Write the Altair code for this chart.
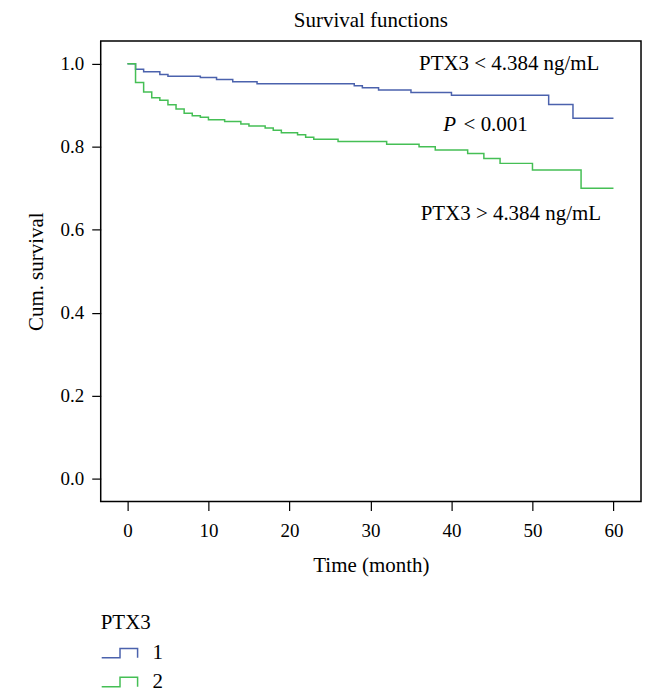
import altair as alt
import pandas as pd

# Group 1 (PTX3 < 4.384 ng/mL)
t1 = [0, 1, 2, 4, 5, 9, 11, 13, 16, 28, 29, 31, 35, 40, 52, 55, 60]
s1 = [1.0, 0.987, 0.981, 0.974, 0.970, 0.967, 0.962, 0.957, 0.952, 0.947,
      0.942, 0.937, 0.931, 0.924, 0.902, 0.869, 0.869]
# Group 2 (PTX3 > 4.384 ng/mL)
t2 = [0, 1, 2, 3, 4, 5, 6, 7, 8, 9, 10, 12, 14, 15, 17, 18, 19, 21, 22, 23,
      26, 32, 36, 38, 42, 44, 46, 50, 56, 60]
s2 = [1.0, 0.955, 0.932, 0.918, 0.912, 0.901, 0.891, 0.881, 0.875, 0.871,
      0.865, 0.861, 0.855, 0.850, 0.845, 0.840, 0.834, 0.829, 0.823, 0.818,
      0.813, 0.806, 0.800, 0.792, 0.784, 0.772, 0.760, 0.744, 0.700, 0.700]

groups = ["1", "2"]
colors = ["#4b62ad", "#45bf55"]

ann_text = ["PTX3 < 4.384 ng/mL", "< 0.001", "PTX3 > 4.384 ng/mL"]
ann_x = [36.0, 41.5, 36.2]
ann_y = [1.0, 0.853, 0.637]

df = pd.DataFrame(
    {"time": t1 + t2, "surv": s1 + s2,
     "PTX3": [groups[0]] * len(t1) + [groups[1]] * len(t2)}
)
ann = pd.DataFrame({"text": ann_text, "x": ann_x, "y": ann_y})
pdf = pd.DataFrame({"text": ["P"], "x": [39.0], "y": [0.853]})

FONT = "Liberation Serif"

xscale = alt.Scale(domain=[-3.3, 63.4], nice=False, zero=False)
yscale = alt.Scale(domain=[-0.055, 1.055], nice=False, zero=False)

step_path = "M-1,0.26L0.02,0.26L0.02,-0.26L1,-0.26L1,0.26"

lines = alt.Chart(df).mark_line(interpolate="step-after", strokeWidth=1.5).encode(
    x=alt.X("time:Q", scale=xscale,
            axis=alt.Axis(values=[0, 10, 20, 30, 40, 50, 60], title="Time (month)")),
    y=alt.Y("surv:Q", scale=yscale,
            axis=alt.Axis(values=[0, 0.2, 0.4, 0.6, 0.8, 1.0], format=".1f",
                          title="Cum. survival")),
    color=alt.Color("PTX3:N", scale=alt.Scale(domain=groups, range=colors),
                    legend=alt.Legend(orient="none", legendX=0, legendY=573,
                                      symbolType=step_path, symbolSize=1296,
                                      symbolStrokeWidth=1.5,
                                      symbolFillColor="transparent",
                                      labelOffset=14, rowPadding=0,
                                      titlePadding=1)),
)

texts = alt.Chart(ann).mark_text(align="left", baseline="middle", font=FONT,
                                 fontSize=21, color="black").encode(
    x=alt.X("x:Q", scale=xscale), y=alt.Y("y:Q", scale=yscale), text="text:N")

ptext = alt.Chart(pdf).mark_text(align="left", baseline="middle", font=FONT,
                                 fontSize=21, fontStyle="italic", color="black").encode(
    x=alt.X("x:Q", scale=xscale), y=alt.Y("y:Q", scale=yscale), text="text:N")

chart = alt.layer(lines, texts, ptext).properties(
    width=542, height=462,
    title=alt.TitleParams("Survival functions", font=FONT, fontSize=21,
                          fontWeight="normal", color="black", offset=7, dy=-3),
    padding={"left": 17, "top": 1, "right": 5, "bottom": 2},
).configure_view(stroke="black", strokeWidth=1.5).configure_axis(
    grid=False, domain=False, ticks=True, tickColor="black", tickSize=9,
    tickWidth=1.2, labelFont=FONT, labelFontSize=19, labelColor="black",
    labelPadding=8, titleFont=FONT, titleFontSize=21, titleFontWeight="normal",
    titleColor="black", titlePadding=14,
).configure_axisX(labelPadding=11).configure_legend(
    titleFont=FONT, titleFontSize=21, titleFontWeight="normal", titleColor="black",
    labelFont=FONT, labelFontSize=21, labelColor="black",
)

chart.save("out.html", embed_options={"renderer": "svg", "actions": False})
